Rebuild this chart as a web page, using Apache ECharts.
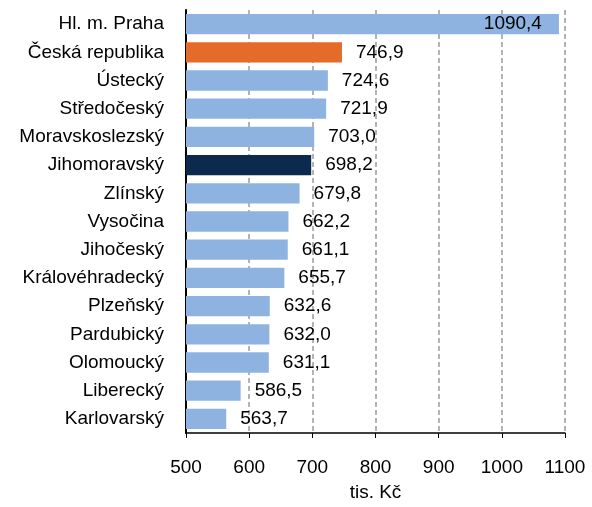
<!DOCTYPE html>
<html><head><meta charset="utf-8">
<script src="https://cdn.jsdelivr.net/npm/echarts@6/dist/echarts.min.js"></script>
<style>html,body{margin:0;padding:0;background:#fff}#c{width:592px;height:507px}</style>
</head><body><div id="c"></div>
<script>
const categories = ["Hl. m. Praha","Česká republika","Ústecký","Středočeský","Moravskoslezský","Jihomoravský","Zlínský","Vysočina","Jihočeský","Královéhradecký","Plzeňský","Pardubický","Olomoucký","Liberecký","Karlovarský"];
const values = [1090.4,746.9,724.6,721.9,703.0,698.2,679.8,662.2,661.1,655.7,632.6,632.0,631.1,586.5,563.7];
const xTicks = [500,600,700,800,900,1000,1100];
const axisTitle = "tis. Kč";
const colorFor = {"Česká republika":"#E46B29","Jihomoravský":"#0B2A4E"};
const base = "#8EB3E0";
const font = "Liberation Sans, Arial, sans-serif";
const fs = 19;
const chart = echarts.init(document.getElementById('c'));
chart.setOption({
  animation:false,
  grid:{left:186,right:27,top:10,bottom:69,containLabel:false},
  xAxis:{type:'value',min:xTicks[0],max:xTicks[xTicks.length-1],interval:100,
    axisLine:{show:true,lineStyle:{color:'#000',width:1.5}},
    axisTick:{show:true,length:5,lineStyle:{color:'#000'}},
    axisLabel:{color:'#000',fontSize:fs,fontFamily:font,margin:25,formatter:v=>String(v)},
    splitLine:{show:true,lineStyle:{type:[5,3],color:'#9a9a9a',width:1.5}},
    name:axisTitle,nameLocation:'middle',nameGap:50,
    nameTextStyle:{color:'#000',fontSize:fs,fontFamily:font}},
  yAxis:{type:'category',data:categories,inverse:true,
    axisLine:{show:true,lineStyle:{color:'#000',width:2}},
    axisTick:{show:false},
    axisLabel:{color:'#000',fontSize:fs,fontFamily:font,margin:22}},
  series:[{type:'bar',barCategoryGap:'28%',
    data:values.map((v,i)=>({value:v,itemStyle:{color:colorFor[categories[i]]||base},
      label: v>1000?{position:'insideRight',distance:17}:{}})),
    label:{show:true,position:'right',distance:14,color:'#000',fontSize:fs,fontFamily:font,
      formatter:p=>p.value.toFixed(1).replace('.',',')}
  }]
});
</script></body></html>
